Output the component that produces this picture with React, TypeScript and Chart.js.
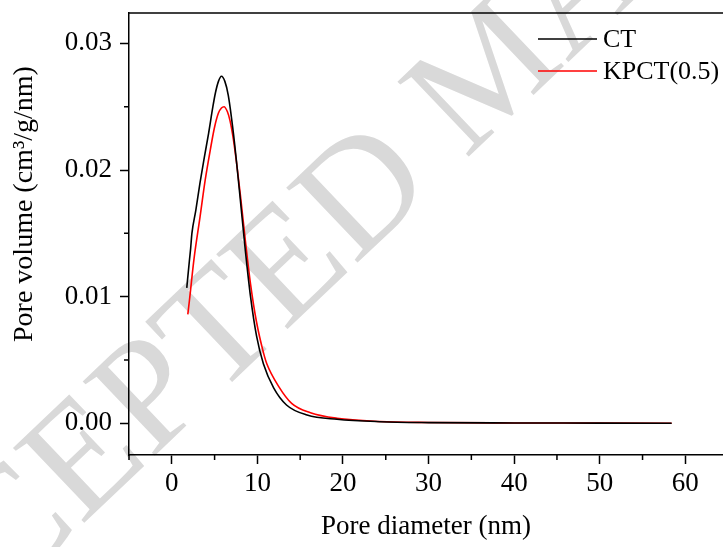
import React, { useEffect, useRef } from "react";
import { Chart, registerables } from "chart.js";

Chart.register(...registerables);

const seriesNames = ["CT", "KPCT(0.5)"];
const seriesColors = ["#000000", "#ff0000"];

const ctX = [1.75, 2.05, 2.2, 2.35, 2.8, 3.3, 3.8, 4.3, 4.8, 5.1, 5.45, 5.8, 6.2, 6.6, 7.2, 7.6, 8.0, 8.6, 9.2, 9.9, 10.7, 11.9, 13.4, 15.8, 19.3, 24.3, 30, 40, 50, 58.4];
const ctY = [0.0107, 0.0128, 0.0138, 0.015, 0.0168, 0.019, 0.021, 0.0229, 0.025, 0.0261, 0.027, 0.0274, 0.027, 0.0259, 0.0229, 0.0204, 0.0177, 0.0136, 0.01, 0.0069, 0.0047, 0.0028, 0.00145, 0.00066, 0.00032, 0.00013, 0.00006, 0.00003, 0.00002, 0.00001];

const kpX = [1.87, 2.06, 2.6, 3.3, 3.9, 4.5, 5.0, 5.45, 5.8, 6.1, 6.5, 6.8, 7.2, 7.6, 8.0, 8.6, 9.2, 9.9, 10.7, 11.1, 12.5, 14.0, 16.2, 19.3, 24.3, 30, 40, 50, 58.4];
const kpY = [0.0086, 0.0097, 0.013, 0.0163, 0.0192, 0.0216, 0.0234, 0.0245, 0.0249, 0.025, 0.0246, 0.0239, 0.0224, 0.0204, 0.0181, 0.0144, 0.011, 0.008, 0.0056, 0.0047, 0.0029, 0.00158, 0.00084, 0.0004, 0.00015, 0.00007, 0.00003, 0.00002, 0.00001];

const xMajorTicks = [0, 10, 20, 30, 40, 50, 60];
const xMinorTicks = [-5, 5, 15, 25, 35, 45, 55];
const yMajorTicks = [0, 0.01, 0.02, 0.03];
const yMinorTicks = [0.005, 0.015, 0.025];

const xTitle = "Pore diameter (nm)";
const yTitle = "Pore volume (cm³/g/nm)";
const watermark = "ACCEPTED MANUSCRIPT";

const FONT = "'Liberation Serif', 'Times New Roman', serif";

const watermarkPlugin = {
  id: "watermark",
  beforeDraw(chart: any) {
    const ctx = chart.ctx;
    ctx.save();
    ctx.translate(-183, 720);
    ctx.rotate((-43.6 * Math.PI) / 180);
    ctx.font = `158px ${FONT}`;
    ctx.fillStyle = "#d9d9d9";
    ctx.textAlign = "left";
    ctx.textBaseline = "middle";
    ctx.fillText(watermark, 0, 0);
    ctx.restore();
  },
};

const framePlugin = {
  id: "frame",
  afterDraw(chart: any) {
    const ctx = chart.ctx;
    const { left, right, top, bottom } = chart.chartArea;
    const xs = chart.scales.x;
    const ys = chart.scales.y;
    ctx.save();
    ctx.strokeStyle = "#000";
    ctx.lineWidth = 1.5;
    ctx.beginPath();
    ctx.moveTo(left, top);
    ctx.lineTo(right, top);
    ctx.stroke();
    ctx.beginPath();
    for (const v of xMinorTicks) {
      const p = xs.getPixelForValue(v);
      ctx.moveTo(p, bottom);
      ctx.lineTo(p, bottom + 5);
    }
    for (const v of yMinorTicks) {
      const p = ys.getPixelForValue(v);
      ctx.moveTo(left, p);
      ctx.lineTo(left - 5, p);
    }
    ctx.stroke();
    // y axis title
    ctx.save();
    ctx.translate(25, 204);
    ctx.rotate(-Math.PI / 2);
    ctx.font = `28px ${FONT}`;
    ctx.fillStyle = "#000";
    ctx.textAlign = "center";
    ctx.textBaseline = "middle";
    ctx.fillText(yTitle, 0, 0);
    ctx.restore();
    // legend
    const lx0 = 538, lx1 = 597, ly = [39, 71];
    ctx.font = `26px ${FONT}`;
    ctx.textAlign = "left";
    ctx.textBaseline = "middle";
    seriesNames.forEach((name, i) => {
      ctx.strokeStyle = seriesColors[i];
      ctx.lineWidth = 1.5;
      ctx.beginPath();
      ctx.moveTo(lx0, ly[i]);
      ctx.lineTo(lx1, ly[i]);
      ctx.stroke();
      ctx.fillStyle = "#000";
      ctx.fillText(name, 603, ly[i] + 1);
    });
    ctx.restore();
  },
};

export default function App() {
  const ref = useRef<HTMLCanvasElement | null>(null);
  useEffect(() => {
    if (!ref.current) return;
    const chart = new Chart(ref.current, {
      type: "line",
      data: {
        datasets: [
          {
            label: seriesNames[0],
            data: ctX.map((x, i) => ({ x, y: ctY[i] })),
            borderColor: seriesColors[0],
            borderWidth: 1.6,
            pointRadius: 0,
            cubicInterpolationMode: "monotone",
            fill: false,
          },
          {
            label: seriesNames[1],
            data: kpX.map((x, i) => ({ x, y: kpY[i] })),
            borderColor: seriesColors[1],
            borderWidth: 1.6,
            pointRadius: 0,
            cubicInterpolationMode: "monotone",
            fill: false,
          },
        ],
      },
      options: {
        animation: false,
        responsive: false,
        maintainAspectRatio: false,
        layout: { padding: { top: 13, left: 0, right: 0, bottom: 0 } },
        plugins: { legend: { display: false }, tooltip: { enabled: false } },
        scales: {
          x: {
            type: "linear",
            min: -5,
            max: 64.4,
            afterBuildTicks: (s: any) => {
              s.ticks = xMajorTicks.map((v) => ({ value: v }));
            },
            afterFit: (s: any) => {
              s.height = 92;
              s.paddingLeft = 0;
              s.paddingRight = 0;
            },
            border: { color: "#000", width: 1.5 },
            grid: { drawOnChartArea: false, drawTicks: true, tickLength: 9, tickColor: "#000", tickWidth: 1.5 },
            ticks: {
              color: "#000",
              font: { family: FONT, size: 27 },
              padding: 4,
              maxRotation: 0,
              callback: (v: any) => String(v),
            },
            title: {
              display: true,
              text: xTitle,
              color: "#000",
              font: { family: FONT, size: 27 },
              padding: { top: 0, bottom: 4 },
            },
          },
          y: {
            type: "linear",
            min: -0.0025,
            max: 0.0324,
            afterBuildTicks: (s: any) => {
              s.ticks = yMajorTicks.map((v) => ({ value: v }));
            },
            afterFit: (s: any) => {
              s.width = 129;
              s.paddingTop = 0;
              s.paddingBottom = 0;
            },
            border: { color: "#000", width: 1.5 },
            grid: { drawOnChartArea: false, drawTicks: true, tickLength: 9, tickColor: "#000", tickWidth: 1.5 },
            ticks: {
              color: "#000",
              font: { family: FONT, size: 27 },
              padding: 8,
              callback: (v: any) => Number(v).toFixed(2),
            },
            title: { display: false },
          },
        },
      },
      plugins: [watermarkPlugin, framePlugin],
    } as any);
    return () => chart.destroy();
  }, []);
  return (
    <div style={{ position: "absolute", left: 0, top: 0, width: 723, height: 547, background: "#fff" }}>
      <canvas ref={ref} width={723} height={547} style={{ display: "block", width: 723, height: 547 }} />
    </div>
  );
}
